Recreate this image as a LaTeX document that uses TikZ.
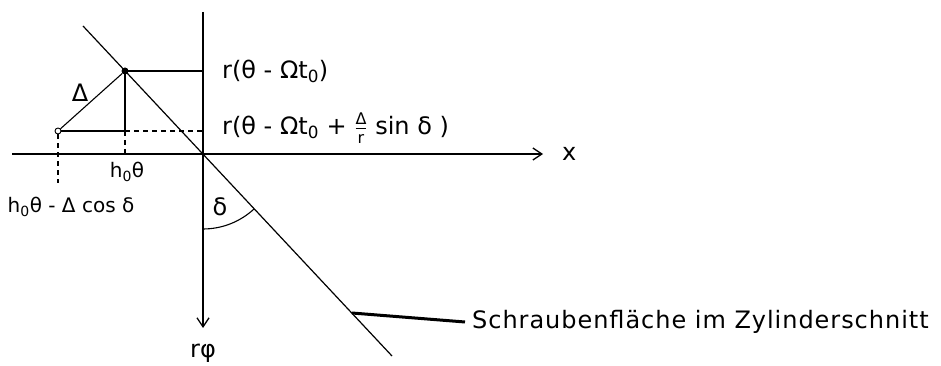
\documentclass[tikz,border=0pt]{standalone}
\usepackage{fontspec}
\setmainfont{DejaVu Sans}
\usepackage{amsmath}
\usetikzlibrary{positioning, arrows.meta}

\newcommand{\fracpart}[1]{\hbox{\fontsize{16}{16}\selectfont #1}}

\begin{document}
\begin{tikzpicture}[
    x=1pt, y=1pt,
    lbl/.style={inner sep=0pt, font=\fontsize{24}{28}\selectfont},
    lblsm/.style={inner sep=0pt, font=\fontsize{20}{24}\selectfont},
    axis/.style={line width=1.6pt, -{Straight Barb[length=9pt, width=12pt, line width=1.3pt]}},
    helix/.style={line width=1.2pt},
    aux/.style={line width=1.1pt},
    auxdash/.style={line width=1.1pt, dash pattern=on 5pt off 4pt},
    dotfill/.style={circle, fill=black, inner sep=0pt, minimum size=7pt},
    dotopen/.style={circle, draw=black, fill=white, line width=0.9pt, inner sep=0pt, minimum size=6pt},
    leader/.style={line width=3pt}
]
    \useasboundingbox (0,0) rectangle (941,366);

    % axes
    \coordinate (O) at (203,212);
    \coordinate (yTop) at (203,354);
    \coordinate (yEnd) at (203,38);
    \coordinate (xStart) at (12,212);
    \coordinate (xEnd) at (543,212);
    \draw[axis] (yTop) -- (yEnd);
    \draw[axis] (xStart) -- (xEnd);
    \node[lbl, right=19pt of xEnd] (xlab) {x};
    \node[lbl, below=16pt of yEnd] (rphi) {rφ};

    % Schraubenflaeche
    \coordinate (sTop) at (83,340);
    \coordinate (sBot) at (392,10);
    \draw[helix] (sTop) -- (sBot);

    % points and projections
    \node[dotfill] (P) at (125,295) {};
    \node[dotopen] (Q) at (58,235) {};
    \coordinate (foot) at (125,235);
    \coordinate (pAx) at (P -| O);
    \coordinate (qAx) at (foot -| O);
    \coordinate (qLow) at (58,183);
    \draw[aux] (P.center) -- (pAx);
    \draw[aux] (P.center) -- (foot);
    \draw[auxdash] (foot) -- (foot |- O);
    \draw[aux] (Q) -- (foot);
    \draw[auxdash] (foot) -- (qAx);
    \draw[auxdash] (Q) -- (qLow);
    \draw[aux] (Q) -- (P);

    \node[lbl] (dl) at (80,273) {Δ};
    \node[lbl, right=19pt of pAx] (r1) {r(θ - Ωt\textsubscript{0})};
    \node[lbl, right=19pt of qAx, yshift=3pt] (r2) {r(θ - Ωt\textsubscript{0} + $\genfrac{}{}{0.9pt}{}{\fracpart{Δ}}{\fracpart{r}}$ sin δ )};
    \node[lblsm] (h1) at (127,194) {h\textsubscript{0}θ};
    \node[lblsm] (h2) at (71,159) {h\textsubscript{0}θ - Δ cos δ};

    % angle
    \draw[aux] (O) ++(270:75) arc[start angle=270, end angle=313, radius=75];
    \node[lbl] (dang) at (220,159) {δ};

    % leader
    \coordinate (lStart) at (352,53);
    \coordinate (lEnd) at (465,44);
    \draw[leader] (lStart) -- (lEnd);
    \node[lbl, right=7pt of lEnd] (cap) {\addfontfeatures{LetterSpace=4}Schraubenfläche im Zylinderschnitt};
\end{tikzpicture}
\end{document}
